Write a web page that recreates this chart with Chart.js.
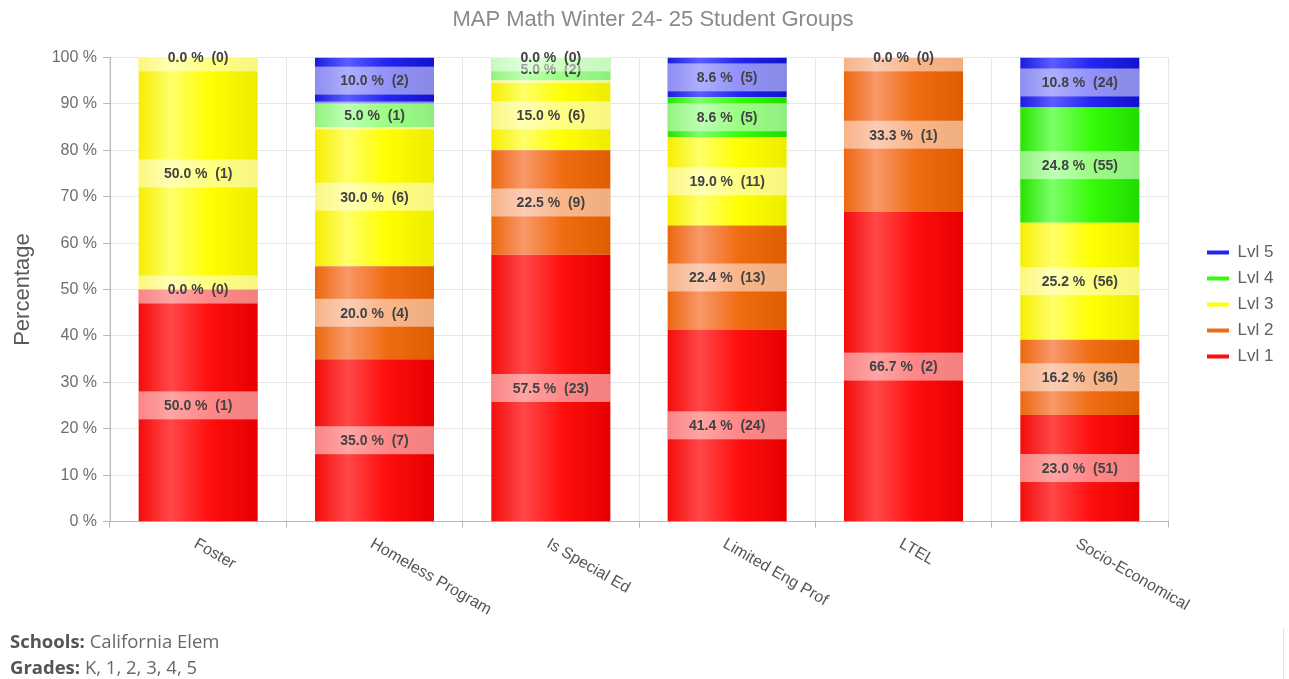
<!DOCTYPE html>
<html>
<head>
<meta charset="utf-8">
<title>MAP Math Winter 24- 25 Student Groups</title>
<script src="https://cdn.jsdelivr.net/npm/chart.js@4.4.1/dist/chart.umd.min.js"></script>
<style>
  html, body { margin: 0; padding: 0; background: #fff; }
  #wrap { position: relative; width: 1289px; height: 679px; overflow: hidden; }
  #chart { position: absolute; left: 0; top: 0; }
  .foot { position: absolute; left: 10px; font-family: "Open Sans", Lato, sans-serif; font-size: 18.5px; line-height: 20px; color: #686868; white-space: nowrap; }
  .foot b { color: #555; font-weight: 700; }
  #edge { position: absolute; left: 1283px; top: 628px; width: 0; height: 51px; border-left: 1px solid #e2e2e2; }
</style>
</head>
<body>
<div id="wrap">
  <canvas id="chart" width="1289" height="679"></canvas>
  <div class="foot" style="top:631px"><b>Schools:</b> California Elem</div>
  <div class="foot" style="top:657px"><b>Grades:</b> K, 1, 2, 3, 4, 5</div>
  <div id="edge"></div>
</div>
<script>
// Student groups on the category axis
const categories = ['Foster', 'Homeless Program', 'Is Special Ed', 'Limited Eng Prof', 'LTEL', 'Socio-Economical'];
const levelNames = ['Lvl 1', 'Lvl 2', 'Lvl 3', 'Lvl 4', 'Lvl 5'];

// Percent of students in each achievement level
const lvl1Pct = [50.0, 35.0, 57.5, 41.4, 66.7, 23.0];
const lvl2Pct = [0.0, 20.0, 22.5, 22.4, 33.3, 16.2];
const lvl3Pct = [50.0, 30.0, 15.0, 19.0, 0.0, 25.2];
const lvl4Pct = [0.0, 5.0, 5.0, 8.6, 0.0, 24.8];
const lvl5Pct = [0.0, 10.0, 0.0, 8.6, 0.0, 10.8];

// Student counts behind each percentage
const lvl1Count = [1, 7, 23, 24, 2, 51];
const lvl2Count = [0, 4, 9, 13, 1, 36];
const lvl3Count = [1, 6, 6, 11, 0, 56];
const lvl4Count = [0, 1, 2, 5, 0, 55];
const lvl5Count = [0, 2, 0, 5, 0, 24];

// Y axis range / step (percent)
const yMin = 0, yMax = 100, yStep = 10;

// Bar shading per level: [left edge, highlight, body, right edge]
const shades = [
  ['#f40c0c', '#ff4848', '#ff0e0e', '#e60000'],
  ['#ec680e', '#f8986a', '#f06c12', '#e05c00'],
  ['#f6ee00', '#ffff6a', '#ffff00', '#eeec00'],
  ['#26e400', '#7cff68', '#36fc08', '#20dc00'],
  ['#1c1ce0', '#5c5cff', '#2424f2', '#1212cc']
];

const FONT = '"Liberation Sans", Arial, Helvetica, sans-serif';
const CAT_PCT = 0.75, BAR_PCT = 0.9;

function barShade(level) {
  return (ctx) => {
    const chart = ctx.chart;
    const xs = chart.scales && chart.scales.x;
    const s = shades[level];
    if (!chart.chartArea || !xs || ctx.dataIndex === undefined) return s[2];
    const cx = xs.getPixelForValue(ctx.dataIndex);
    const half = (xs.width / categories.length) * CAT_PCT * BAR_PCT / 2;
    const g = chart.ctx.createLinearGradient(cx - half, 0, cx + half, 0);
    g.addColorStop(0, s[0]);
    g.addColorStop(0.27, s[1]);
    g.addColorStop(0.6, s[2]);
    g.addColorStop(1, s[3]);
    return g;
  };
}

const pctSeries = [lvl1Pct, lvl2Pct, lvl3Pct, lvl4Pct, lvl5Pct];
const countSeries = [lvl1Count, lvl2Count, lvl3Count, lvl4Count, lvl5Count];

const datasets = levelNames.map((name, k) => ({
  label: name,
  data: pctSeries[k],
  counts: countSeries[k],
  backgroundColor: barShade(k),
  borderWidth: 0,
  categoryPercentage: CAT_PCT,
  barPercentage: BAR_PCT
}));

// Value boxes: translucent white band across the bar with "pct %  (count)"
const segmentLabels = {
  id: 'segmentLabels',
  afterDatasetsDraw(chart) {
    const ctx = chart.ctx;
    ctx.save();
    ctx.font = 'bold 14px ' + FONT;
    ctx.textAlign = 'center';
    ctx.textBaseline = 'middle';
    const placed = categories.map(() => []);
    chart.data.datasets.forEach((ds, di) => {
      const meta = chart.getDatasetMeta(di);
      if (meta.hidden) return;
      meta.data.forEach((bar, i) => {
        const p = bar.getProps(['x', 'y', 'base', 'width'], true);
        const cy = (p.y + p.base) / 2;
        if (placed[i].some(v => Math.abs(v - cy) < 1)) return;
        placed[i].push(cy);
        ctx.fillStyle = 'rgba(255,255,255,0.5)';
        ctx.fillRect(p.x - p.width / 2, cy - 14, p.width, 28);
        ctx.fillStyle = '#424242';
        ctx.fillText(ds.data[i].toFixed(1) + ' %  (' + ds.counts[i] + ')', p.x, cy + 1);
      });
    });
    ctx.restore();
  }
};

// Category names slanted downward to the right, starting at each bar's centre
const slantedCategoryLabels = {
  id: 'slantedCategoryLabels',
  afterDraw(chart) {
    const xs = chart.scales.x;
    const ctx = chart.ctx;
    ctx.save();
    ctx.font = '16px ' + FONT;
    ctx.fillStyle = '#555';
    ctx.textAlign = 'left';
    ctx.textBaseline = 'middle';
    categories.forEach((name, i) => {
      const px = xs.getPixelForValue(i);
      ctx.save();
      ctx.translate(px - 3, xs.top + 21);
      ctx.rotate(Math.PI / 6);
      ctx.fillText(name, 0, 0);
      ctx.restore();
    });
    ctx.restore();
  }
};

// Fixed legend column to the right of the plot
const legendPlacement = {
  id: 'legendPlacement',
  beforeLayout(chart) {
    const lg = chart.legend;
    if (lg && !lg.__fixedWidth) {
      const fit = lg.fit;
      lg.fit = function () { fit.call(this); this.width = 121; };
      lg.__fixedWidth = true;
    }
  },
  afterLayout(chart) {
    const lg = chart.legend;
    if (!lg) return;
    lg.left += 30; lg.right += 30;
    lg.top -= 35; lg.bottom -= 35;
  }
};

new Chart(document.getElementById('chart'), {
  type: 'bar',
  data: { labels: categories, datasets },
  plugins: [legendPlacement, segmentLabels, slantedCategoryLabels],
  options: {
    responsive: false,
    animation: false,
    events: [],
    layout: { padding: { left: 17, right: 0, top: 0, bottom: 0 } },
    plugins: {
      title: {
        display: true,
        text: 'MAP Math Winter 24- 25 Student Groups',
        color: '#8a8a8a',
        font: { family: FONT, size: 22, weight: 'normal', lineHeight: 1.2 },
        padding: { top: 7, bottom: 24 }
      },
      legend: {
        position: 'right',
        reverse: true,
        labels: {
          boxWidth: 22,
          boxHeight: 4,
          padding: 9,
          color: '#606060',
          font: { family: FONT, size: 17 },
          generateLabels(chart) {
            return chart.data.datasets.map((ds, i) => ({
              text: ds.label,
              fillStyle: shades[i][2],
              strokeStyle: shades[i][2],
              lineWidth: 0,
              fontColor: '#606060',
              hidden: !chart.isDatasetVisible(i),
              datasetIndex: i
            }));
          }
        }
      },
      tooltip: { enabled: false }
    },
    scales: {
      x: {
        stacked: true,
        grid: { color: '#e6e6e6', tickColor: '#b8b8b8', tickLength: 6, offset: true },
        border: { color: '#b8b8b8' },
        ticks: { display: false },
        afterFit(scale) { scale.height = 679 - 521.7; }
      },
      y: {
        stacked: true,
        min: yMin,
        max: yMax,
        ticks: {
          stepSize: yStep,
          color: '#6e6e6e',
          padding: 6,
          font: { family: FONT, size: 16 },
          callback: (v) => v + ' %'
        },
        grid: { color: '#e6e6e6', tickColor: '#b8b8b8', tickLength: 7 },
        border: { color: '#b8b8b8' },
        title: {
          display: true,
          text: 'Percentage',
          color: '#5a5a5a',
          font: { family: FONT, size: 22, lineHeight: 1 },
          padding: { top: -5, bottom: 0 }
        },
        afterFit(scale) { scale.width = 93; }
      }
    }
  }
});
</script>
</body>
</html>
